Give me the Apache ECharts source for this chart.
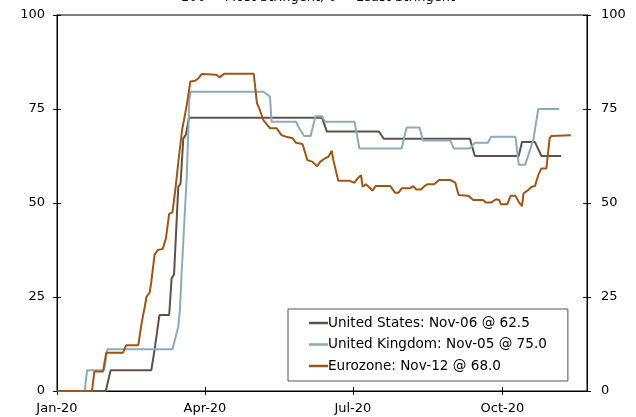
<!DOCTYPE html>
<html>
<head>
<meta charset="utf-8">
<script src="https://cdn.jsdelivr.net/npm/echarts@6/dist/echarts.min.js"></script>
<style>html,body{margin:0;padding:0;background:#fff}#c{width:636px;height:417px}</style>
</head>
<body>
<div id="c"></div>
<script>
// x = days counted from 2020-01-01 (day 0), y = stringency index
const seriesNames = ['United States: Nov-06 @ 62.5', 'United Kingdom: Nov-05 @ 75.0', 'Eurozone: Nov-12 @ 68.0'];
const usData = [[0,0],[30,0],[33,5.5],[58,5.5],[60,10.9],[63,20.2],[69,20.2],[70.5,30],[72,31],[74.6,54.3],[76,55.2],[77.7,67.2],[79.2,68.1],[81.2,72.7],[163,72.7],[166,69],[198,69],[201,67.1],[254,67.1],[257,62.5],[284,62.5],[286,66.2],[294,66.2],[298,62.5],[310,62.5]];
const ukData = [[0,0],[17,0],[18.5,5.5],[29,5.5],[31,11.1],[71,11.1],[74.6,17.1],[75.6,21.5],[76.7,31.7],[77.7,32.2],[79.8,57],[81.4,77.4],[82.2,79.6],[127,79.6],[131,78.3],[132,71.6],[147,71.6],[149,69.9],[152,67.8],[156,67.8],[159,73.1],[163,73.1],[165,71.6],[183,71.6],[186,64.5],[212,64.5],[215,70.1],[223,70.1],[225,66.6],[242,66.6],[244,64.5],[254,64.5],[257,66],[265,66],[267,67.6],[282,67.6],[284,60.2],[288,60.2],[293,66.8],[296,75],[309,75]];
const ezData = [[0,0],[21.5,0],[23,5.2],[28.3,5.2],[30.3,10.2],[40.6,10.2],[42.6,12.2],[50,12.2],[52,18],[54,22.4],[55,25],[57,26.2],[58,29],[60,36.2],[62,37.5],[65,37.8],[67,40.6],[69,47.1],[71,47.5],[73,54.3],[75,62.3],[77,69.6],[78,71.8],[80,76.5],[82,82.3],[85,82.5],[87,83.2],[89,84.3],[98,84.1],[100,83.4],[103,84.4],[121,84.4],[123,76.5],[124,75.6],[127,72],[131,69.9],[135,69.9],[138,68.1],[141,67.6],[145,67.2],[147,66],[151,65.7],[154,61.4],[157,61],[160,59.8],[162,61],[165,61.9],[167,62.3],[169,63.9],[170,61.4],[173,55.9],[180,55.9],[183,55.4],[185,56.6],[187,57.4],[188,54.3],[190,55],[192,54.2],[194,53.3],[196,54.5],[205,54.5],[208,52.7],[210,52.7],[212,53.9],[217,53.9],[219,54.5],[221,53.6],[224,53.6],[226,54.5],[228,55],[232,55],[235,56.1],[242,56.1],[245,55.4],[247,52.1],[253,51.9],[256,50.8],[262,50.8],[264,50.1],[267,50.1],[270,51],[272,50.8],[273,49.7],[277,49.7],[279,51.9],[282,51.9],[284,50.3],[286,49.2],[287,52.6],[290,53.5],[292,54.3],[294,54.5],[296,57.4],[298,59.2],[301,59.2],[303,67.2],[304,67.8],[316,68]];
const xTickDays = [0, 91, 182, 274];
const xTickLabels = ['Jan-20', 'Apr-20', 'Jul-20', 'Oct-20'];
const xMaxDay = 326;
const titleText = '100 = Most Stringent; 0 = Least Stringent';

const FONT = 'DejaVu Sans';
const colors = ['#5e5148', '#8eaabb', '#9e5616'];

function xAx(inside, showLabel) {
  return {
    type: 'value', min: 0, max: xMaxDay, position: 'bottom',
    axisLine: { show: !inside, onZero: false, lineStyle: { color: '#000', width: 1 } },
    axisTick: { show: true, inside: inside, length: 4, customValues: xTickDays, lineStyle: { color: '#000', width: 1 } },
    axisLabel: { show: showLabel, customValues: xTickDays, margin: 11, fontFamily: FONT, fontSize: 13, color: '#000',
      formatter: v => { const i = xTickDays.indexOf(v); return i >= 0 ? xTickLabels[i] : ''; } },
    splitLine: { show: false }
  };
}
function yAx(pos, inside, showLabel) {
  return {
    type: 'value', min: 0, max: 100, interval: 25, position: pos,
    axisLine: { show: true, onZero: false, lineStyle: { color: '#000', width: 1 } },
    axisTick: { show: true, inside: inside, length: 4, lineStyle: { color: '#000', width: 1 } },
    axisLabel: { show: showLabel, margin: pos === 'left' ? 12 : 14, fontFamily: FONT, fontSize: 13, color: '#000' },
    splitLine: { show: false }
  };
}

const chart = echarts.init(document.getElementById('c'), null, { renderer: 'canvas' });
chart.setOption({
  animation: false,
  backgroundColor: '#fff',
  title: { text: titleText, left: 'center', top: -9, padding: 0,
    textStyle: { fontFamily: FONT, fontSize: 13, fontWeight: 'normal', color: '#000' } },
  grid: { left: 57, right: 49, top: 15, bottom: 26, show: true, borderColor: '#000', borderWidth: 1, backgroundColor: 'transparent' },
  legend: {
    orient: 'vertical', left: 288, top: 309,
    data: seriesNames,
    icon: 'rect', itemWidth: 19, itemHeight: 2.5, itemGap: 5.5,
    padding: [6, 21, 7, 21],
    backgroundColor: '#fff', borderColor: '#555', borderWidth: 1, borderRadius: 0,
    textStyle: { fontFamily: FONT, fontSize: 13.6, color: '#000', lineHeight: 16, padding: [0, 0, 0, -5] }
  },
  xAxis: [xAx(false, true), xAx(true, false)],
  yAxis: [yAx('left', false, true), yAx('left', true, false), yAx('right', false, true), yAx('right', true, false)],
  series: [usData, ukData, ezData].map((d, i) => ({
    name: seriesNames[i], type: 'line', data: d, showSymbol: false, symbol: 'none',
    xAxisIndex: 0, yAxisIndex: 0,
    lineStyle: { color: colors[i], width: 2 }, itemStyle: { color: colors[i] }
  }))
});
</script>
</body>
</html>
